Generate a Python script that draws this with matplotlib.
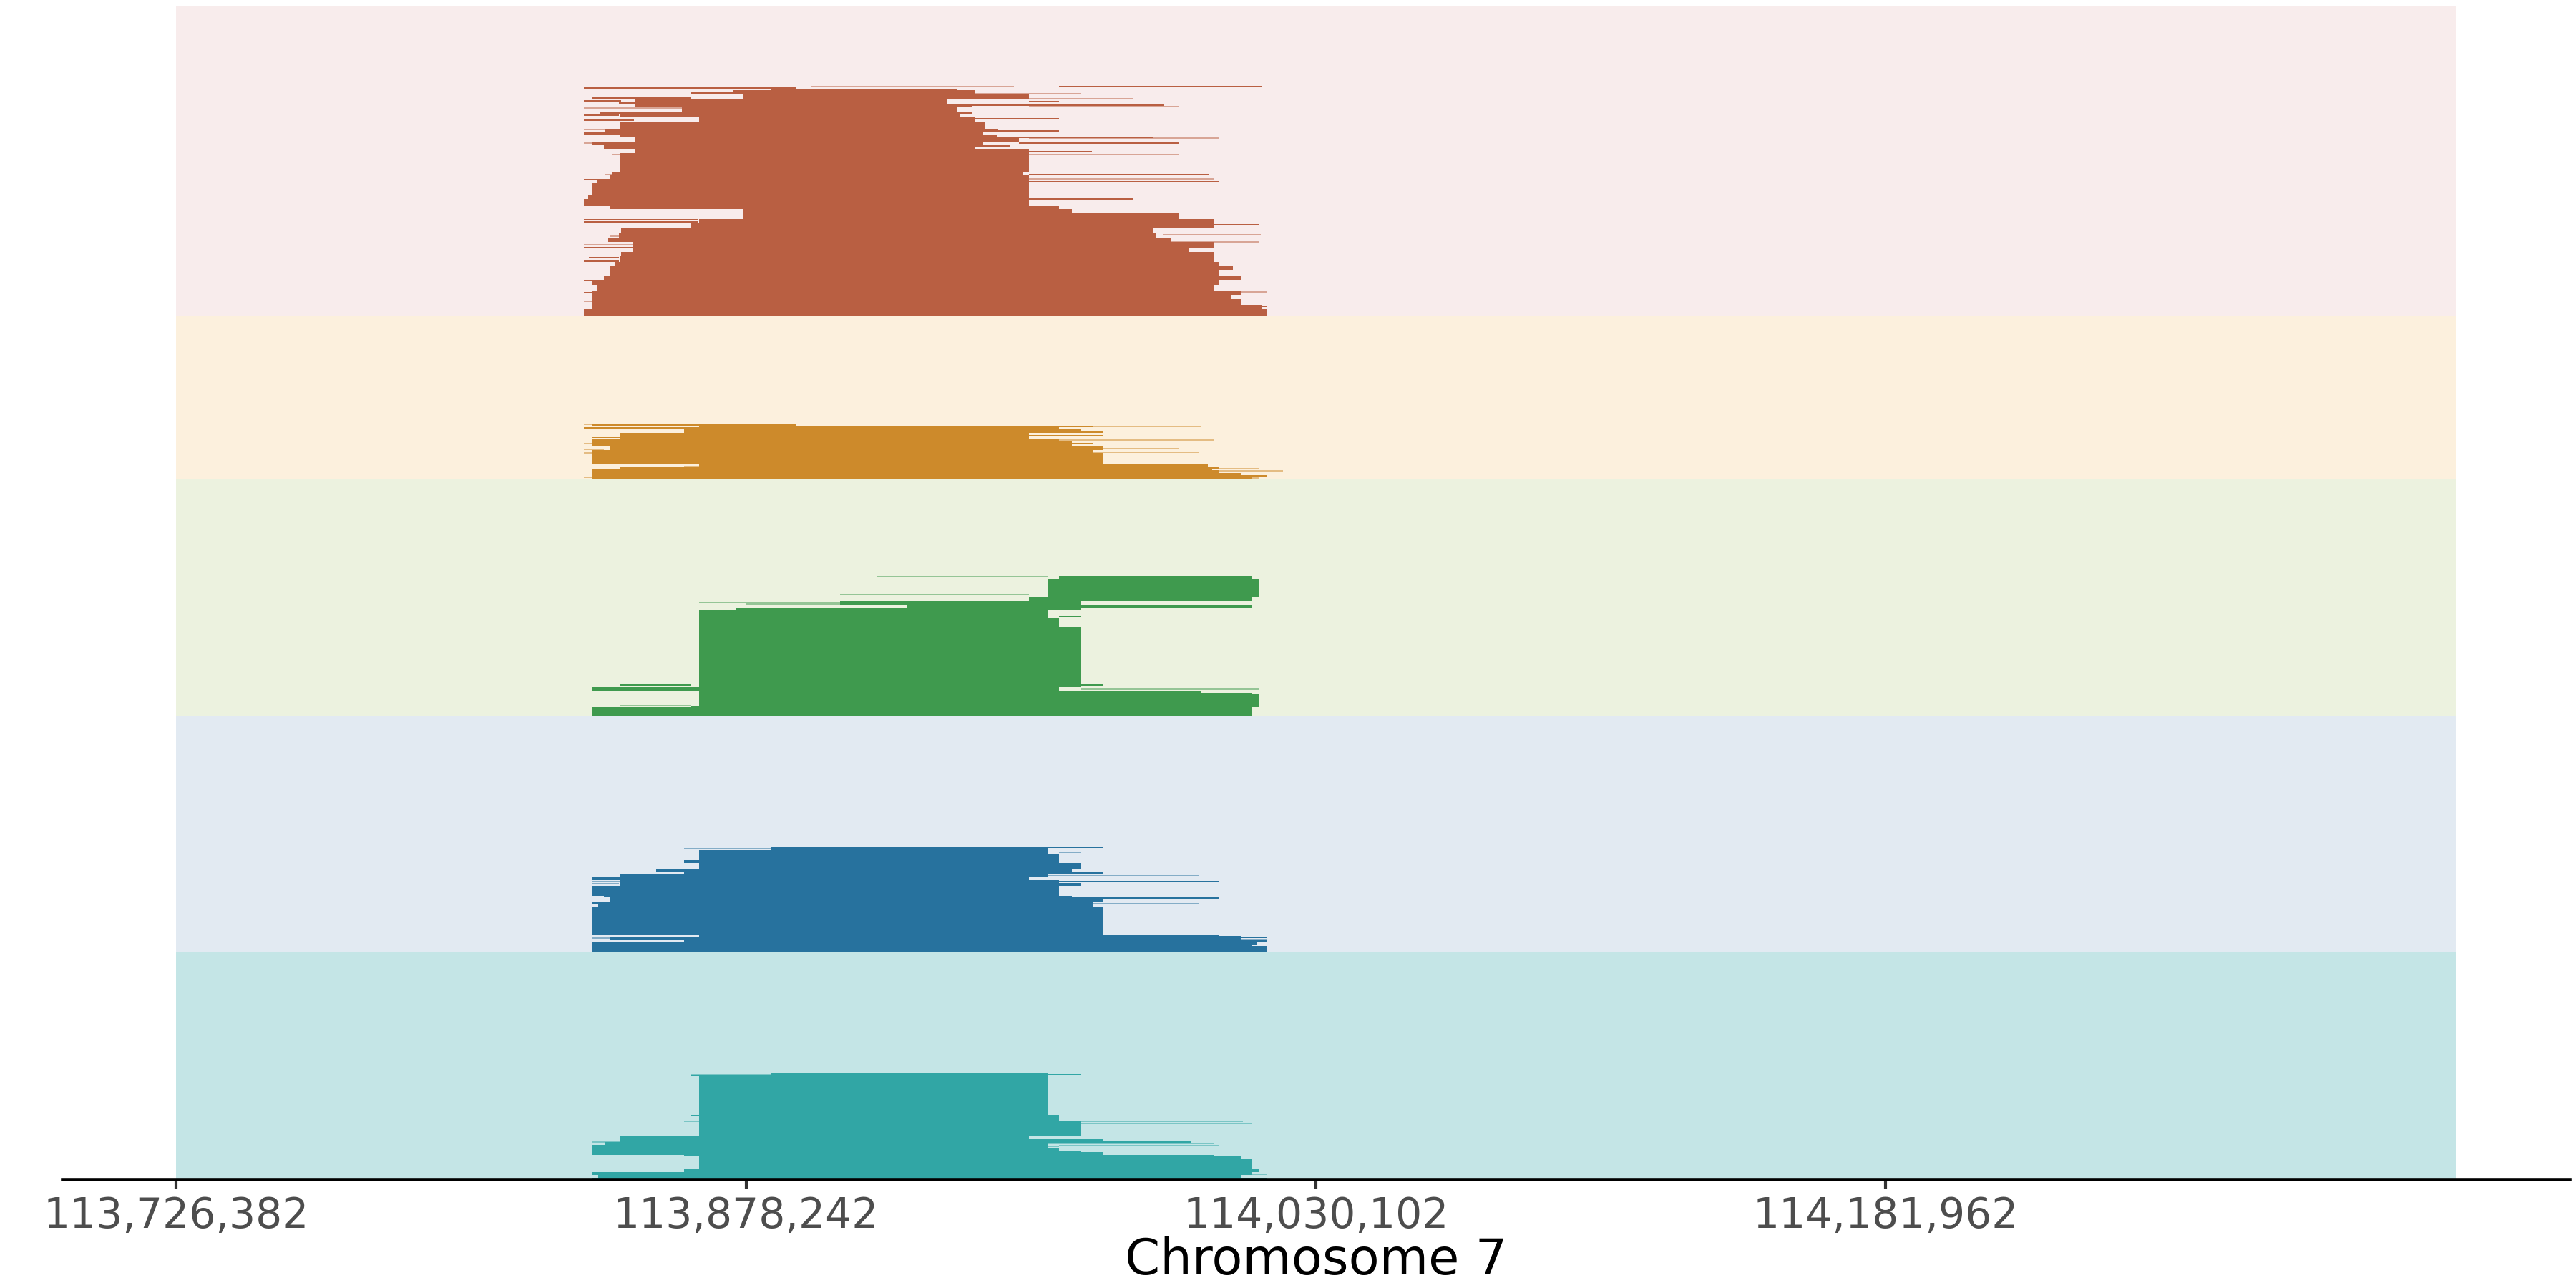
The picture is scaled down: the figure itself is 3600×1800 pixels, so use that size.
import numpy as np
import matplotlib
matplotlib.use("Agg")
import matplotlib.pyplot as plt

# ---------------- data ----------------
REGION_START = 113726382
REGION_END = 114333822
tick_positions = [113726382, 113878242, 114030102, 114181962]
tick_labels = ["113,726,382", "113,878,242", "114,030,102", "114,181,962"]
x_label = "Chromosome 7"

# tracks from bottom to top
track_names = ["teal", "blue", "green", "yellow", "red"]
track_depth = [159, 165, 165, 113.5, 217]      # rows per track
track_bg = ["#c4e5e6", "#e2eaf2", "#ecf2df", "#fcf0dd", "#f8ecec"]
track_fg = ["#31a6a5", "#27729e", "#3f9a4e", "#cd8a2b", "#b95f42"]

# main pile-up (kb offsets from REGION_START), stacked from the bottom; rows = read count
red_start = [108.7, 110.8, 110.8, 110.8, 110.8, 112.0, 111.0, 114.0, 115.4, 115.4, 117.0, 118.2, 118.6,
             121.8, 121.8, 115.0, 118.0, 118.6, 137.1, 139.3, 150.9, 150.9, 115.4, 108.7, 109.7, 111.0,
             112.0, 115.4, 116.1, 118.2, 122.4, 114.0, 111.0, 122.4, 118.2, 108.7, 114.3, 118.2, 139.3,
             118.2, 113.0, 134.8, 122.4, 118.0, 122.4, 150.9, 137.1, 148.2, 158.6, 108.7]
red_end = [290.5, 289.5, 283.8, 281.0, 283.8, 276.4, 278.0, 283.8, 277.9, 281.5, 277.9, 276.4, 276.4,
           270.0, 276.4, 265.0, 261.0, 260.4, 276.4, 276.4, 267.0, 238.7, 235.3, 227.3, 227.3, 227.3,
           227.3, 227.3, 225.8, 227.3, 227.3, 213.0, 215.0, 224.6, 218.6, 215.0, 219.0, 215.4, 213.0,
           209.0, 212.0, 208.0, 212.0, 205.3, 205.3, 227.3, 213.0, 213.0, 207.9, 165.2]
red_rows = [5, 3, 4, 3, 3, 4, 3, 3, 4, 3, 3, 4, 3, 3, 4, 3, 3, 4, 3, 3, 4, 3, 2, 5, 3, 8,
            3, 3, 2, 13, 3, 3, 2, 3, 2, 2, 2, 5, 3, 2, 2, 3, 2, 2, 2, 3, 2, 1, 1, 1]

yellow_start = [111.0, 111.0, 111.0, 111.0, 118.2, 139.3, 111.0, 111.0, 115.4, 111.0, 111.0, 118.2,
                118.2, 135.4, 139.3, 111.0]
yellow_end = [286.8, 283.8, 277.9, 276.0, 277.9, 275.0, 246.8, 244.3, 246.8, 238.7, 235.3, 227.3,
              227.3, 241.2, 235.3, 165.2]
yellow_rows = [2, 2, 2, 1, 1, 2, 8, 2, 3, 3, 2, 2, 2, 3, 2, 1]

green_start = [111.0, 137.1, 139.3, 139.3, 139.3, 111.0, 139.3, 139.3, 139.3, 149.0, 194.8, 176.9,
               227.3, 232.2, 235.3]
green_end = [286.8, 288.4, 288.4, 286.8, 273.0, 235.3, 241.2, 235.3, 232.2, 241.2, 286.8, 241.2,
             286.8, 288.4, 286.8]
green_rows = [6, 1, 8, 1, 1, 3, 42, 6, 6, 1, 2, 3, 3, 12, 2]

blue_start = [111.0, 111.0, 111.0, 135.4, 115.4, 139.3, 111.0, 112.4, 111.0, 115.4, 115.4, 114.0,
              111.0, 118.2, 118.2, 111.0, 118.2, 135.4, 127.9, 139.3, 135.4, 139.3, 139.3, 158.6, 158.6]
blue_end = [290.5, 286.8, 288.0, 290.5, 283.8, 277.9, 246.8, 244.3, 244.3, 246.8, 277.9, 238.7,
            235.3, 241.2, 235.3, 227.3, 232.2, 246.8, 238.7, 241.2, 235.3, 235.3, 232.2, 232.2, 232.2]
blue_rows = [4, 1, 2, 1, 2, 2, 19, 2, 2, 2, 1, 1, 7, 2, 2, 2, 2, 2, 2, 4, 2, 4, 3, 1, 1]

teal_start = [111.0, 112.4, 111.0, 135.4, 139.3, 139.3, 135.4, 111.0, 111.0, 111.0, 111.0, 114.3,
              118.2, 118.2, 139.3, 139.3, 139.3, 137.1, 158.6]
teal_end = [290.5, 283.8, 286.8, 288.4, 286.8, 283.8, 276.4, 246.8, 241.2, 235.3, 232.2, 232.2,
            246.8, 227.3, 241.2, 235.3, 232.2, 232.2, 232.2]
teal_rows = [1, 2, 2, 2, 7, 2, 1, 2, 1, 2, 2, 2, 2, 2, 11, 4, 27, 1, 1]

# single scattered reads: pile-up row, start kb, end kb, light (1) / solid (0)
red_thin_row = [160, 160, 155, 152, 151.5, 150, 149.5, 147, 146, 145, 140, 137.5, 136.7, 130, 129, 127,
                124, 124.5, 120.5, 120.5, 118.7, 114.7, 112.8, 112.7, 98.7, 98.5, 95.5, 95.3, 93.8,
                81.7, 81.5, 74, 72, 72, 70.8, 67.5, 67, 65.8, 63.7, 60, 56.7, 55.8, 53.7, 51.7, 50,
                48, 46, 41, 38.3, 30, 24.7, 16.8, 16.2, 10, 6.7, 5.5]
red_thin_start = [169.3, 235.3, 183.1, 110.8, 212.0, 108.7, 227.3, 212.0, 227.3, 108.7, 108.7, 205.3,
                  108.7, 108.7, 218.6, 108.7, 227.3, 213.0, 224.6, 108.7, 213.0, 227.3, 227.3, 116.0,
                  227.3, 114.3, 227.3, 108.7, 227.3, 227.3, 110.0, 227.3, 235.3, 108.7, 235.3, 108.7,
                  246.0, 108.7, 276.4, 276.4, 263.0, 115.4, 116.0, 263.0, 108.7, 108.7, 108.7, 110.0,
                  108.7, 108.7, 108.7, 283.8, 108.7, 108.7, 283.8, 108.7]
red_thin_end = [223.3, 289.5, 241.2, 137.1, 254.9, 118.6, 235.3, 263.2, 267.0, 135.0, 118.0, 235.3,
                122.0, 137.0, 235.3, 118.2, 277.9, 260.4, 267.0, 164.2, 222.0, 244.0, 267.0, 158.6,
                275.1, 164.2, 276.4, 164.2, 277.9, 254.9, 137.0, 238.7, 276.4, 150.9, 267.0, 139.0,
                290.5, 139.0, 288.6, 281.0, 289.0, 127.8, 137.0, 288.6, 121.8, 122.4, 114.0, 118.0,
                118.0, 115.0, 114.0, 290.5, 114.0, 112.0, 290.5, 115.4]
red_thin_light = [1, 0, 1, 0, 1, 0, 0, 0, 1, 1, 0, 0, 0, 1, 0, 1, 1, 0, 0, 1, 0, 0, 1, 1, 0, 1, 1, 0, 0,
                  0, 1, 0, 0, 0, 1, 0, 1, 0, 0, 0, 1, 1, 1, 1, 1, 0, 0, 0, 0, 1, 0, 1, 0, 1, 0, 0]

yellow_thin_row = [37.5, 36.3, 36.3, 36.3, 35.3, 35.3, 32.3, 29.8, 28.5, 26.8, 26.7, 24.5, 24.2, 21,
                   20, 18, 17.8, 8.5, 6.8, 5.3, 3, 1.7, 0.8, 0.3]
yellow_thin_start = [108.7, 158.6, 227.3, 244.3, 108.7, 203.0, 238.7, 227.3, 111.0, 232.2, 122.4, 235.3,
                     108.7, 246.8, 108.7, 244.3, 108.7, 135.4, 260.0, 267.0, 276.0, 279.0, 108.7, 283.8]
yellow_thin_end = [158.6, 186.7, 244.3, 273.0, 139.3, 232.2, 246.8, 246.8, 118.2, 276.4, 152.0, 244.3,
                   118.0, 267.0, 114.0, 272.7, 139.0, 139.3, 288.6, 295.0, 286.8, 290.5, 118.0, 288.4]
yellow_thin_light = [1, 1, 0, 1, 0, 1, 0, 0, 0, 1, 1, 0, 1, 1, 1, 1, 1, 1, 1, 1, 1, 0, 1, 1]

green_thin_row = [96.5, 84, 78.5, 78, 77.5, 68.7, 68.7, 21, 21, 18, 18, 6.7, 6.5]
green_thin_start = [186.7, 176.9, 139.3, 204.7, 152.0, 139.3, 235.3, 241.2, 118.2, 212.5, 241.2,
                    118.2, 285.0]
green_thin_end = [232.2, 227.3, 176.9, 235.3, 176.9, 145.7, 241.2, 246.8, 137.0, 232.2, 288.4,
                  137.0, 288.4]
green_thin_light = [1, 1, 1, 1, 1, 1, 0, 0, 0, 1, 1, 1, 0]

blue_thin_row = [72.8, 72.2, 71.5, 69, 69, 58.7, 52.8, 48.5, 48.5, 47.2, 39.5, 38, 37.7, 33.2, 33,
                 10.3, 9.5, 9, 8, 6.7, 4.5, 4.5]
blue_thin_start = [111.0, 227.3, 135.4, 139.3, 235.3, 241.2, 224.6, 111.0, 232.2, 111.0, 111.0, 135.4,
                   246.8, 244.3, 113.0, 277.9, 265.0, 111.0, 265.0, 267.0, 111.0, 281.0]
blue_thin_end = [158.6, 246.8, 158.6, 148.2, 241.2, 246.8, 272.7, 158.6, 277.9, 118.0, 115.0, 148.2,
                 265.3, 272.7, 139.3, 283.8, 290.5, 118.0, 290.5, 272.7, 116.0, 286.8]
blue_thin_light = [1, 0, 1, 1, 1, 0, 1, 1, 0, 1, 0, 1, 0, 1, 1, 0, 0, 1, 1, 1, 1, 1]

teal_thin_row = [73.8, 72.7, 72.7, 71.7, 44.3, 40, 40, 38.5, 25.5, 25.5, 24.7, 23.3, 23.3, 22.3, 19.2,
                 4.2, 3.3, 2.8]
teal_thin_start = [139.3, 137.1, 212.5, 224.6, 137.1, 135.4, 232.2, 241.2, 111.0, 227.3, 232.2, 115.0,
                   235.3, 232.2, 111.0, 263.2, 111.0, 283.8]
teal_thin_end = [158.6, 158.6, 241.2, 232.2, 139.3, 186.7, 284.3, 286.8, 158.6, 270.6, 276.4, 158.6,
                 278.0, 235.3, 114.3, 277.9, 118.2, 290.5]
teal_thin_light = [1, 1, 0, 1, 0, 1, 1, 1, 1, 0, 1, 1, 1, 1, 1, 1, 1, 1]

main_data = {
    "red": (red_start, red_end, red_rows),
    "yellow": (yellow_start, yellow_end, yellow_rows),
    "green": (green_start, green_end, green_rows),
    "blue": (blue_start, blue_end, blue_rows),
    "teal": (teal_start, teal_end, teal_rows),
}
thin_data = {
    "red": (red_thin_row, red_thin_start, red_thin_end, red_thin_light),
    "yellow": (yellow_thin_row, yellow_thin_start, yellow_thin_end, yellow_thin_light),
    "green": (green_thin_row, green_thin_start, green_thin_end, green_thin_light),
    "blue": (blue_thin_row, blue_thin_start, blue_thin_end, blue_thin_light),
    "teal": (teal_thin_row, teal_thin_start, teal_thin_end, teal_thin_light),
}

# ---------------- plot ----------------
fig = plt.figure(figsize=(12, 6), dpi=300)
ax = fig.add_axes([0.0242, 0.0844, 0.9733, 0.9112])

span = REGION_END - REGION_START
base = 0.0
for name, depth, bg, fg in zip(track_names, track_depth, track_bg, track_fg):
    ax.barh(base, span, left=REGION_START, height=depth, align="edge",
            color=bg, linewidth=0, zorder=1)
    s, e, r = main_data[name]
    s = REGION_START + np.array(s) * 1000
    e = REGION_START + np.array(e) * 1000
    r = np.array(r, dtype=float)
    bottoms = base + np.concatenate([[0], np.cumsum(r)[:-1]])
    ax.barh(bottoms, e - s, left=s, height=r, align="edge",
            color=fg, linewidth=0, zorder=2)
    tr, ts, te, tl = thin_data[name]
    ts = REGION_START + np.array(ts) * 1000
    te = REGION_START + np.array(te) * 1000
    tr = np.array(tr, dtype=float)
    tl = np.array(tl)
    for light, alpha in ((1, 0.5), (0, 1.0)):
        m = tl == light
        ax.barh(base + tr[m], (te - ts)[m], left=ts[m], height=0.8, align="edge",
                color=fg, alpha=alpha, linewidth=0, zorder=3)
    base += depth

ax.set_ylim(0, base)
ax.set_xlim(REGION_START - 0.05 * span, REGION_END + 0.05 * span)

for side in ("left", "right", "top"):
    ax.spines[side].set_visible(False)
ax.spines["bottom"].set_color("black")
ax.spines["bottom"].set_linewidth(1.1)
ax.spines["bottom"].set_zorder(5)
ax.set_yticks([])
ax.set_xticks(tick_positions)
ax.set_xticklabels(tick_labels)
ax.tick_params(axis="x", direction="out", length=3.0, width=1.0, color="#333333",
               labelsize=14.0, labelcolor="#4d4d4d", pad=2.5)
ax.set_xlabel(x_label, fontsize=16.9, color="black", labelpad=0)
ax.set_facecolor("white")

fig.savefig("out.png", dpi=300)
